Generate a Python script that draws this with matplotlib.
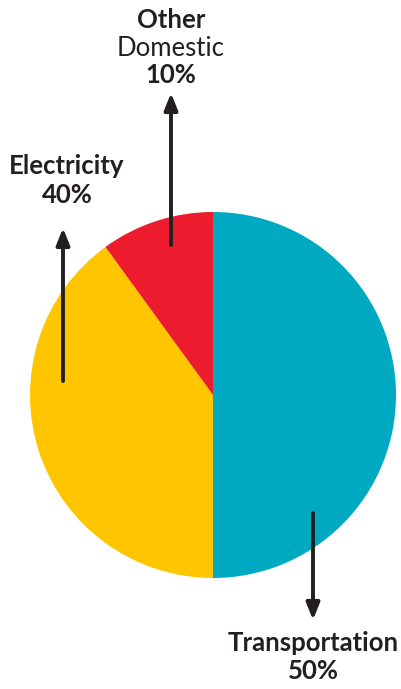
import matplotlib
matplotlib.use("Agg")
import matplotlib.pyplot as plt

W, H = 402, 689

categories = ["Transportation", "Electricity", "Other Domestic"]
shares = [50, 40, 10]
colors = ["#00A9C2", "#FFC600", "#EC1C2E"]

TEXT = "#231F20"
FONT = "Lato"
SIZE = 18.5

fig = plt.figure(figsize=(W / 100, H / 100), dpi=100)
ax = fig.add_axes([0, 0, 1, 1])

ax.pie(shares, colors=colors, startangle=90, counterclock=False,
       center=(213, H - 395), radius=183, frame=True,
       wedgeprops=dict(linewidth=0))
ax.set_xlim(0, W)
ax.set_ylim(0, H)
ax.set_aspect("equal")
ax.axis("off")


def arrow(x, y0, y1):
    ax.annotate("", xy=(x, H - y1), xytext=(x, H - y0),
                arrowprops=dict(arrowstyle="-|>,head_length=1.0,head_width=0.4",
                                lw=2.8, color=TEXT, shrinkA=0, shrinkB=0))


arrow(171, 245, 93)
arrow(63, 381, 228)
arrow(313, 513, 620)

kw = dict(ha="center", va="center", color=TEXT, family=FONT, fontsize=SIZE)
ax.text(171, H - 20, "Other", fontweight="bold", **kw)
ax.text(171, H - 48, "Domestic", **kw)
ax.text(171, H - 75, f"{shares[2]}%", fontweight="bold", **kw)
ax.text(67, H - 166, "Electricity", fontweight="bold", **kw)
ax.text(67, H - 195, f"{shares[1]}%", fontweight="bold", **kw)
ax.text(313, H - 643, "Transportation", fontweight="bold", **kw)
ax.text(313, H - 671, f"{shares[0]}%", fontweight="bold", **kw)

fig.savefig("out.png", dpi=100)
